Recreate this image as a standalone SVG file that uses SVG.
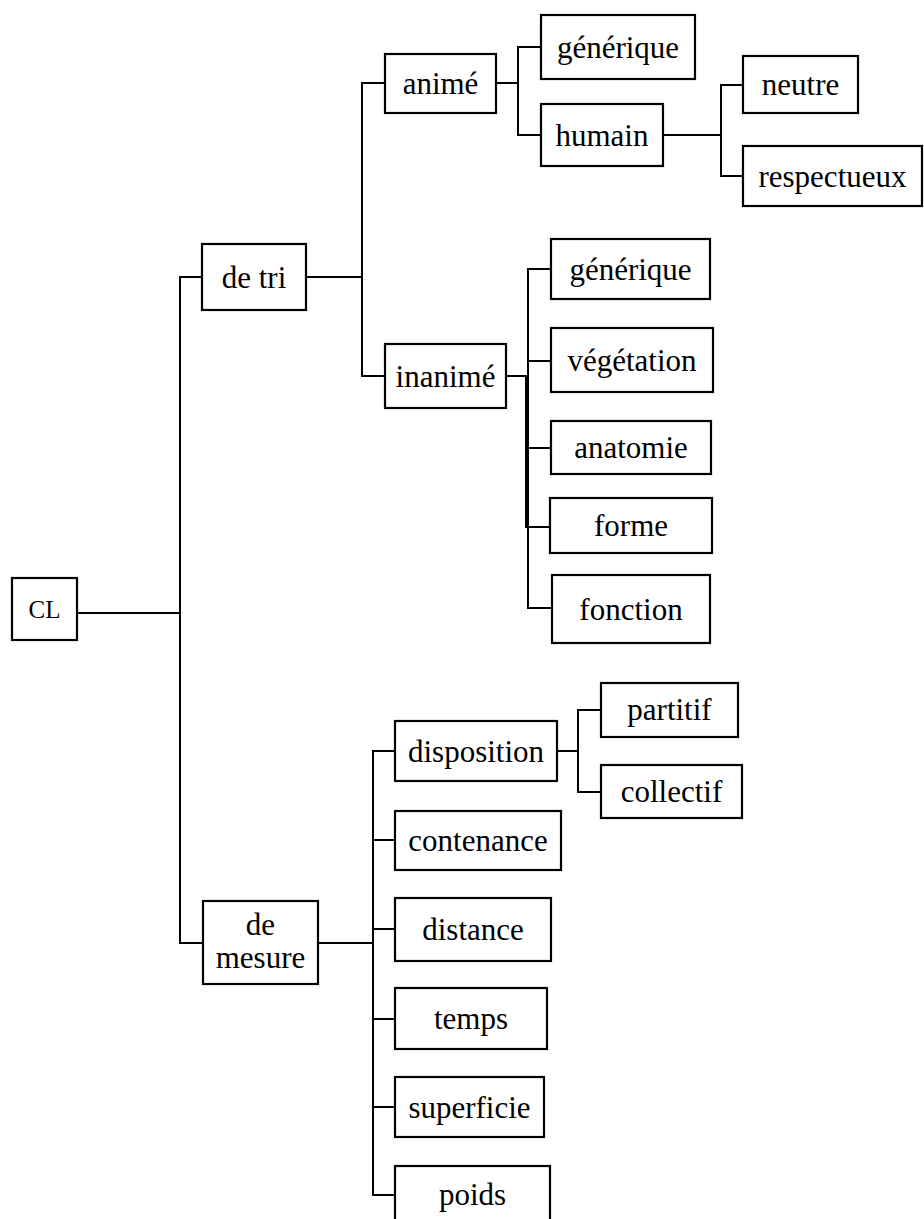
<svg xmlns="http://www.w3.org/2000/svg" width="924" height="1219" viewBox="0 0 924 1219">
<style>
rect.box{fill:#fff;stroke:#000;stroke-width:2.2}
path.c{fill:none;stroke:#000;stroke-width:2;stroke-linecap:square}
</style>
<rect width="924" height="1219" fill="#fff"/>
<g id="connectors">
<path class="c" d="M77 613H180M180 277V943M180 277H202M180 943H203"/>
<path class="c" d="M306 277H362M362 83V376M362 83H385M362 376H385"/>
<path class="c" d="M496 83H518M518 47V135M518 47H541M518 135H541"/>
<path class="c" d="M663 135H721M721 85V176M721 85H743M721 176H743"/>
<path class="c" d="M506 376H528M528 269V608M528 269H551M528 361H551M528 448H551M528 527H551M528 608H551M526 376V527"/>
<path class="c" d="M318 943H373M373 751V1195M373 751H395M373 840H395M373 929H395M373 1019H395M373 1107H395M373 1195H395"/>
<path class="c" d="M557 751H578M578 710V792M578 710H601M578 792H601"/>
</g>
<g id="nodes" font-family="Times New Roman, Liberation Serif, serif" font-size="31" text-anchor="middle" fill="#000">
<g id="n-cl"><rect class="box" x="12" y="578" width="65" height="62"/><text x="44.5" y="618" font-size="25">CL</text></g>
<g id="n-detri"><rect class="box" x="202" y="244" width="104" height="66"/><text x="254" y="288">de tri</text></g>
<g id="n-demesure"><rect class="box" x="203" y="901" width="115" height="83"/><text x="260.5" y="935">de</text><text x="260.5" y="968">mesure</text></g>
<g id="n-anime"><rect class="box" x="385" y="54" width="111" height="59"/><text x="440.5" y="94">animé</text></g>
<g id="n-inanime"><rect class="box" x="385" y="344" width="121" height="64"/><text x="445.5" y="387">inanimé</text></g>
<g id="n-generique1"><rect class="box" x="541" y="15" width="154" height="64"/><text x="618" y="58">générique</text></g>
<g id="n-humain"><rect class="box" x="541" y="104" width="122" height="62"/><text x="602" y="146">humain</text></g>
<g id="n-neutre"><rect class="box" x="743" y="56" width="115" height="57"/><text x="800.5" y="95">neutre</text></g>
<g id="n-respectueux"><rect class="box" x="743" y="146" width="179" height="60"/><text x="832.5" y="187">respectueux</text></g>
<g id="n-generique2"><rect class="box" x="551" y="239" width="159" height="60"/><text x="630.5" y="280">générique</text></g>
<g id="n-vegetation"><rect class="box" x="551" y="328" width="162" height="64"/><text x="632" y="371">végétation</text></g>
<g id="n-anatomie"><rect class="box" x="551" y="421" width="160" height="53"/><text x="631" y="458">anatomie</text></g>
<g id="n-forme"><rect class="box" x="550" y="498" width="162" height="55"/><text x="631" y="536">forme</text></g>
<g id="n-fonction"><rect class="box" x="552" y="575" width="158" height="68"/><text x="631" y="620">fonction</text></g>
<g id="n-disposition"><rect class="box" x="395" y="721" width="162" height="60"/><text x="476" y="762">disposition</text></g>
<g id="n-contenance"><rect class="box" x="395" y="811" width="166" height="59"/><text x="478" y="851">contenance</text></g>
<g id="n-distance"><rect class="box" x="395" y="898" width="156" height="63"/><text x="473" y="940">distance</text></g>
<g id="n-temps"><rect class="box" x="395" y="988" width="152" height="61"/><text x="471" y="1029">temps</text></g>
<g id="n-superficie"><rect class="box" x="395" y="1077" width="149" height="60"/><text x="469.5" y="1118">superficie</text></g>
<g id="n-poids"><rect class="box" x="395" y="1166" width="155" height="62"/><text x="472.5" y="1205">poids</text></g>
<g id="n-partitif"><rect class="box" x="601" y="683" width="137" height="54"/><text x="669.5" y="720">partitif</text></g>
<g id="n-collectif"><rect class="box" x="601" y="765" width="141" height="53"/><text x="671.5" y="802">collectif</text></g>
</g>
</svg>
